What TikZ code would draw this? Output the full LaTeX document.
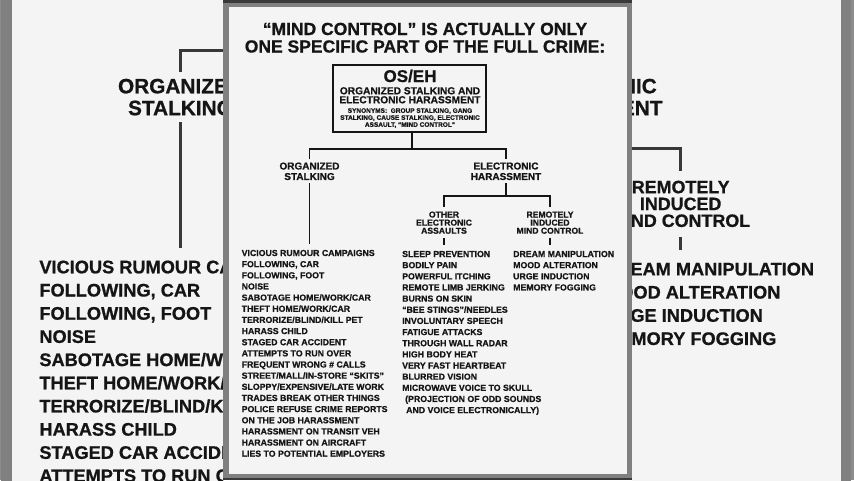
\documentclass[tikz,border=0pt]{standalone}
\usepackage{fontspec}
\setmainfont{Liberation Sans}[BoldFeatures={FakeBold=0.8}]
\definecolor{ink}{HTML}{151515}
\definecolor{framegray}{HTML}{808080}
\definecolor{framedark}{HTML}{3A3A3A}
\definecolor{paper}{HTML}{F4F4F4}
\definecolor{outergray}{HTML}{8C8C8C}
\newcommand\fsz[2]{\fontsize{#1}{#2}\selectfont\bfseries}
\tikzset{
  conn/.style={draw=ink, line width=1.5pt},
  boxline/.style={draw=ink, line width=1.7pt},
  ttl/.style={font=\fsz{17.5}{20}, text=ink, inner sep=0pt, anchor=base},
  boxtxt/.style={text=ink, inner sep=0pt, anchor=base},
  lbl/.style={font=\fsz{10}{10.5}, text=ink, align=center, inner xsep=0pt, inner ysep=3pt, anchor=north},
  sublbl/.style={font=\fsz{8.6}{8.1}, text=ink, align=center, inner xsep=0pt, inner ysep=4.5pt, anchor=north},
  itemlist/.style={font=\fsz{8.75}{11.15}, text=ink, align=left, inner xsep=0pt, inner ysep=6pt, anchor=north west},
}
\newcommand\drawpanel{%
  \fill[framegray] (223,0) rectangle (632,-480);
  \fill[framedark] (223,0) rectangle (632,-3);
  \fill[framedark] (223,-477.5) rectangle (632,-480);
  \fill[paper] (228.5,-6.5) rectangle (627,-473.5);
  \node[ttl] (t1) at (425,-35) {“MIND CONTROL” IS ACTUALLY ONLY};
  \node[ttl] (t2) at (425,-52.5) {ONE SPECIFIC PART OF THE FULL CRIME:};
  \node[boxline, minimum width=153pt, minimum height=67pt, inner sep=0pt] (os) at (409.5,-98.5) {};
  \node[boxtxt, font=\fsz{17}{19}] (osh) at (410,-82) {OS/EH};
  \node[boxtxt, font=\fsz{10.2}{11}] (ose1) at (410,-94.3) {ORGANIZED STALKING AND};
  \node[boxtxt, font=\fsz{10.2}{11}] (ose2) at (410,-103.3) {ELECTRONIC HARASSMENT};
  \node[boxtxt, font=\fsz{6.5}{7}] (syn1) at (410,-112.8) {SYNONYMS:\ \ GROUP STALKING, GANG};
  \node[boxtxt, font=\fsz{6.5}{7}] (syn2) at (410,-119.8) {STALKING, CAUSE STALKING, ELECTRONIC};
  \node[boxtxt, font=\fsz{6.5}{7}] (syn3) at (410,-126.8) {ASSAULT, “MIND CONTROL”};
  \coordinate (j0) at (412,-149);
  \node[lbl] (org) at (309.5,-159.3) {ORGANIZED\\STALKING};
  \node[lbl] (el) at (506,-159.3) {ELECTRONIC\\HARASSMENT};
  \draw[conn] (os.south -| j0) -- (j0);
  \draw[conn] (org.north) |- (j0) -| (el.north);
  \coordinate (j1) at (506,-196);
  \draw[conn] (el.south) -- (j1);
  \node[sublbl] (oth) at (444,-206.8) {OTHER\\ELECTRONIC\\ASSAULTS};
  \node[sublbl] (rim) at (550,-206.8) {REMOTELY\\INDUCED\\MIND CONTROL};
  \draw[conn] (oth.north) |- (j1) -| (rim.north);
  \node[itemlist] (list1) at (241.5,-243.7) {VICIOUS RUMOUR CAMPAIGNS\\
    FOLLOWING, CAR\\
    FOLLOWING, FOOT\\
    NOISE\\
    SABOTAGE HOME/WORK/CAR\\
    THEFT HOME/WORK/CAR\\
    TERRORIZE/BLIND/KILL PET\\
    HARASS CHILD\\
    STAGED CAR ACCIDENT\\
    ATTEMPTS TO RUN OVER\\
    FREQUENT WRONG \# CALLS\\
    STREET/MALL/IN-STORE “SKITS”\\
    SLOPPY/EXPENSIVE/LATE WORK\\
    TRADES BREAK OTHER THINGS\\
    POLICE REFUSE CRIME REPORTS\\
    ON THE JOB HARASSMENT\\
    HARASSMENT ON TRANSIT VEH\\
    HARASSMENT ON AIRCRAFT\\
    LIES TO POTENTIAL EMPLOYERS};
  \node[itemlist] (list2) at (402,-244.7) {SLEEP PREVENTION\\
    BODILY PAIN\\
    POWERFUL ITCHING\\
    REMOTE LIMB JERKING\\
    BURNS ON SKIN\\
    “BEE STINGS”/NEEDLES\\
    INVOLUNTARY SPEECH\\
    FATIGUE ATTACKS\\
    THROUGH WALL RADAR\\
    HIGH BODY HEAT\\
    VERY FAST HEARTBEAT\\
    BLURRED VISION\\
    MICROWAVE VOICE TO SKULL\\
    \hspace*{3pt}(PROJECTION OF ODD SOUNDS\\
    \hspace*{4pt}AND VOICE ELECTRONICALLY)};
  \node[itemlist] (list3) at (513,-244.7) {DREAM MANIPULATION\\
    MOOD ALTERATION\\
    URGE INDUCTION\\
    MEMORY FOGGING};
  \draw[conn] (org.south) -- (org.south |- list1.north);
  \draw[conn] (oth.south) -- (oth.south |- list2.north);
  \draw[conn] (rim.south) -- (rim.south |- list3.north);
}
\begin{document}
\begin{tikzpicture}[x=1pt,y=1pt]
\useasboundingbox (0,0) rectangle (854,-480);
\clip (0,0) rectangle (854,-480);
\fill[outergray] (0,0) rectangle (854,-480);
\begin{scope}[even odd rule]
  \clip (-5,5) rectangle (859,-485) (223,5) rectangle (632,-485);
  \begin{scope}[shift={(429,-240)}, scale=2.08, shift={(-429,240)}, transform shape, name prefix=bg-,
    conn/.append style={line width=3.2pt, draw=ink!85}, boxline/.append style={line width=3.4pt},
    every node/.append style={text=ink!85}]
    \drawpanel
  \end{scope}
\end{scope}
\drawpanel
\end{tikzpicture}
\end{document}
